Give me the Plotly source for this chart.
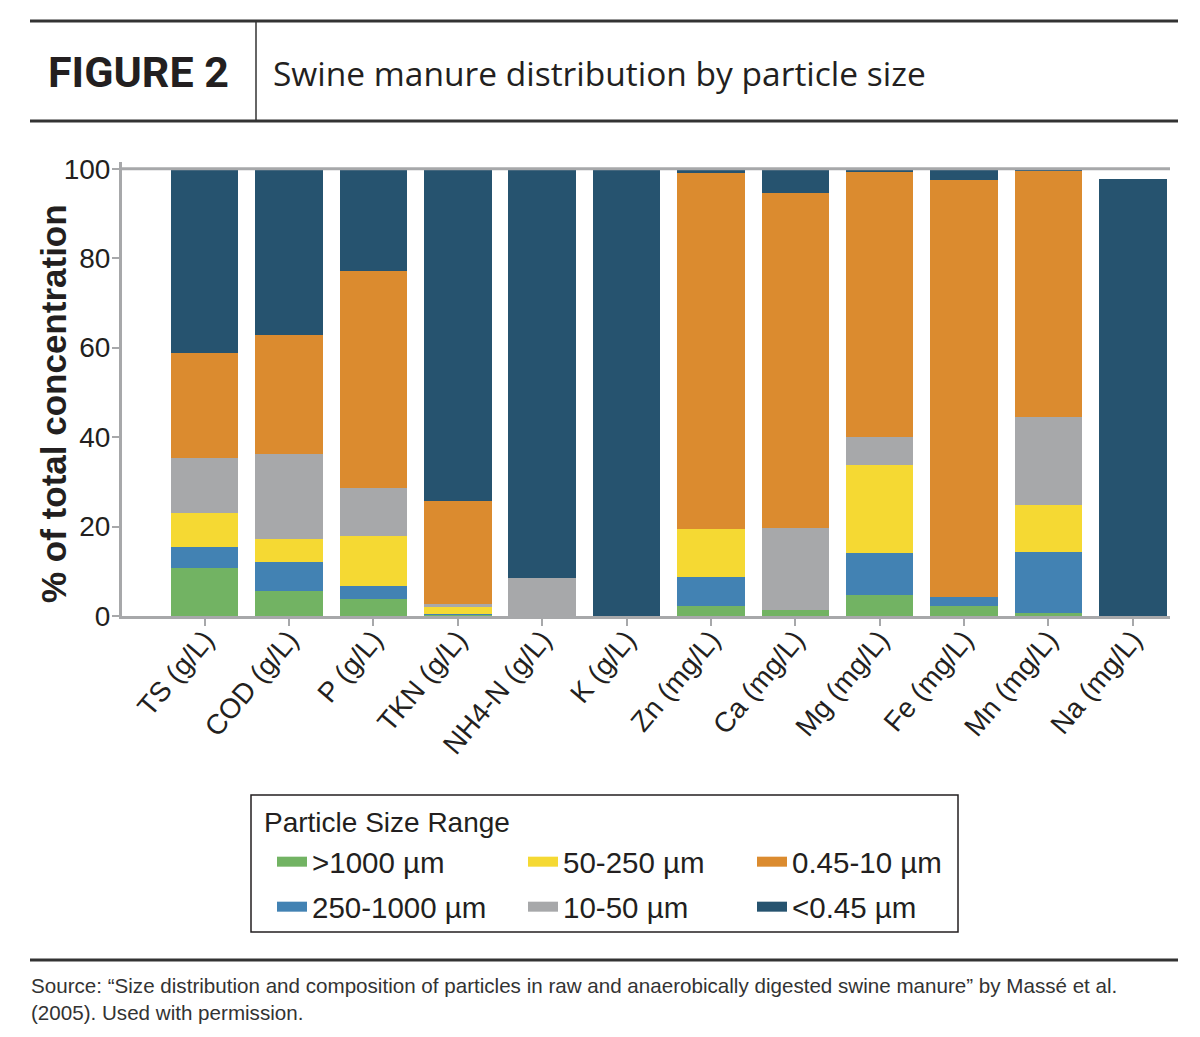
import plotly.graph_objects as go

categories = ["TS (g/L)", "COD (g/L)", "P (g/L)", "TKN (g/L)", "NH4-N (g/L)", "K (g/L)",
              "Zn (mg/L)", "Ca (mg/L)", "Mg (mg/L)", "Fe (mg/L)", "Mn (mg/L)", "Na (mg/L)"]

series_names = [">1000 µm", "250-1000 µm", "50-250 µm", "10-50 µm", "0.45-10 µm", "<0.45 µm"]

gt1000 = [10.7, 5.6, 3.7, 0.3, 0.0, 0.0, 2.3, 1.3, 4.7, 2.2, 0.6, 0.0]
r250_1000 = [4.7, 6.5, 3.1, 0.2, 0.0, 0.0, 6.5, 0.0, 9.3, 2.0, 13.8, 0.0]
r50_250 = [7.6, 5.2, 11.1, 1.5, 0.0, 0.0, 10.6, 0.0, 19.7, 0.0, 10.4, 0.0]
r10_50 = [12.3, 18.9, 10.8, 0.6, 8.4, 0.0, 0.0, 18.3, 6.4, 0.0, 19.6, 0.0]
r045_10 = [23.4, 26.6, 48.5, 23.0, 0.0, 0.0, 79.6, 75.0, 59.1, 93.3, 55.2, 0.0]
lt045 = [41.3, 37.2, 22.8, 74.4, 91.6, 100.0, 1.0, 5.4, 0.8, 2.5, 0.4, 97.7]

colors = ["#72b363", "#4282b3", "#f5d933", "#a7a8aa", "#db8b2f", "#26536f"]

y_ticks = [0, 20, 40, 60, 80, 100]

header_label = "FIGURE 2"
header_title = "Swine manure distribution by particle size"
legend_title = "Particle Size Range"
y_title = "% of total concentration"
source_lines = ["Source: \u201cSize distribution and composition of particles in raw and anaerobically digested swine manure\u201d by Massé et al.",
                "(2005). Used with permission."]

W, H = 1200, 1037
ML, MR, MT, MB = 122, 30, 162, 421
PW = W - ML - MR
PH = H - MT - MB


def px(x):
    return (x - ML) / PW


def py(y):
    return (H - MB - y) / PH


SANS = "Liberation Sans, Arial, Helvetica, sans-serif"
TXT = "#231f20"

series_values = [gt1000, r250_1000, r50_250, r10_50, r045_10, lt045]

# legend positions (text-left x, row center y) in pixels
legend_pos = [(315, 862), (315, 907), (566, 862), (566, 907), (795, 862), (795, 907)]

fig = go.Figure()
for name, vals, col in zip(series_names, series_values, colors):
    fig.add_trace(go.Bar(
        x=categories, y=vals, name=name,
        marker=dict(color=col, line=dict(width=0)),
        showlegend=False,
    ))

legend_layouts = {}
for i, (name, col) in enumerate(zip(series_names, colors)):
    lname = "legend" if i == 0 else f"legend{i+1}"
    fig.add_trace(go.Scatter(
        x=[None], y=[None], mode="lines", name=name,
        line=dict(color=col, width=12),
        legend=lname, showlegend=True, hoverinfo="skip",
    ))
    tx, ty = legend_pos[i]
    legend_layouts[lname] = dict(
        x=px(tx - 43), y=py(ty), xanchor="left", yanchor="middle",
        bgcolor="rgba(0,0,0,0)", borderwidth=0, itemwidth=30,
        font=dict(family=SANS, size=29.5, color=TXT),
        itemclick=False, itemdoubleclick=False,
    )

shapes = [
    # header lines
    dict(type="line", xref="paper", yref="paper", x0=px(30), x1=px(1178), y0=py(21), y1=py(21),
         line=dict(color="#333333", width=3)),
    dict(type="line", xref="paper", yref="paper", x0=px(30), x1=px(1178), y0=py(121), y1=py(121),
         line=dict(color="#333333", width=3)),
    dict(type="line", xref="paper", yref="paper", x0=px(256), x1=px(256), y0=py(21), y1=py(121),
         line=dict(color="#333333", width=1.5)),
    # bottom line
    dict(type="line", xref="paper", yref="paper", x0=px(30), x1=px(1178), y0=py(960), y1=py(960),
         line=dict(color="#333333", width=3)),
    # top line at 100
    dict(type="line", xref="paper", yref="y", x0=0, x1=1, y0=100, y1=100,
         line=dict(color="#a7a8aa", width=3), layer="above"),
    # legend box
    dict(type="rect", xref="paper", yref="paper", x0=px(251), x1=px(958), y0=py(932), y1=py(795),
         line=dict(color="#231f20", width=1.5)),
]

annotations = [
    dict(text="<b>" + header_label + "</b>", xref="paper", yref="paper", x=px(46), y=py(72),
         xanchor="left", yanchor="middle", showarrow=False,
         font=dict(family="Roboto, Liberation Sans, sans-serif", size=43, color=TXT, weight=900)),
    dict(text=header_title, xref="paper", yref="paper", x=px(271), y=py(73),
         xanchor="left", yanchor="middle", showarrow=False,
         font=dict(family="Open Sans, Lato, sans-serif", size=33.5, color=TXT)),
    dict(text=legend_title, xref="paper", yref="paper", x=px(262), y=py(822),
         xanchor="left", yanchor="middle", showarrow=False,
         font=dict(family=SANS, size=28, color=TXT)),
    dict(text="<b>" + y_title + "</b>", xref="paper", yref="paper", x=px(53), y=py(404),
         xanchor="center", yanchor="middle", textangle=-90, showarrow=False,
         font=dict(family=SANS, size=35, color=TXT)),
    dict(text=source_lines[0] + "<br>" + source_lines[1], xref="paper", yref="paper",
         x=px(29), y=py(972), xanchor="left", yanchor="top", align="left", showarrow=False,
         font=dict(family=SANS, size=20.6, color="#333333")),
]

fig.update_layout(
    width=W, height=H,
    margin=dict(l=ML, r=MR, t=MT, b=MB, autoexpand=False),
    paper_bgcolor="white", plot_bgcolor="white",
    barmode="stack", bargap=0.2,
    showlegend=True,
    shapes=shapes, annotations=annotations,
    xaxis=dict(
        range=[-0.98, 11.44], showgrid=False, zeroline=False,
        showline=True, linecolor="#a7a8aa", linewidth=3,
        ticks="outside", ticklen=7, tickwidth=2, tickcolor="#a7a8aa",
        tickangle=-50, tickfont=dict(family=SANS, size=28, color=TXT),
        ticklabelstandoff=-14,
        automargin=False,
    ),
    yaxis=dict(
        range=[0, 101.5], tickvals=y_ticks, showgrid=False, zeroline=False,
        showline=True, linecolor="#a7a8aa", linewidth=3,
        ticks="outside", ticklen=7, tickwidth=2, tickcolor="#a7a8aa",
        tickfont=dict(family=SANS, size=28, color=TXT),
        ticklabelstandoff=-4,
        automargin=False,
    ),
    **legend_layouts,
)

fig.write_html("out.html")
